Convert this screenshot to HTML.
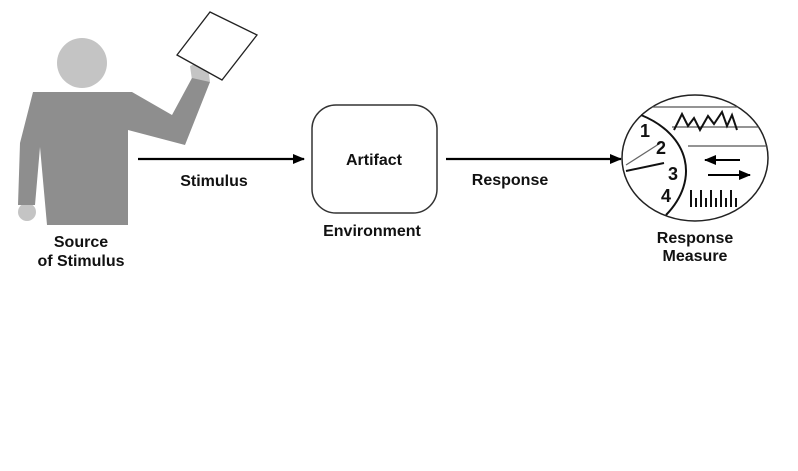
<!DOCTYPE html>
<html><head><meta charset="utf-8"><style>
html,body{margin:0;padding:0;background:#fff;width:798px;height:471px;overflow:hidden}
text{font-family:"Liberation Sans",Arial,sans-serif;font-weight:bold;fill:#111}
</style></head><body>
<svg width="798" height="471" viewBox="0 0 798 471" xmlns="http://www.w3.org/2000/svg">
<defs><marker id="ah" markerWidth="12" markerHeight="10" refX="11" refY="5" orient="auto" markerUnits="userSpaceOnUse"><path d="M0,0 L12,5 L0,10 z" fill="#000"/></marker>
<clipPath id="cc"><ellipse cx="695" cy="158" rx="73" ry="63"/></clipPath></defs>
<!-- person -->
<circle cx="82" cy="63" r="25" fill="#c4c4c4"/>
<polygon points="190,66 207,58 210,82 192,80" fill="#c4c4c4"/>
<circle cx="27" cy="212" r="9" fill="#c4c4c4"/>
<polygon points="33,92 132,92 172,115 192,78 210,82 185,145 128,130 128,225 47,225 40,147 35,205 18,205 20,143" fill="#8e8e8e"/>
<polygon points="177,55 210,12 257,35 222,80" fill="#fff" stroke="#222" stroke-width="1.3"/>
<!-- arrows -->
<line x1="138" y1="159" x2="304" y2="159" stroke="#000" stroke-width="2.2" marker-end="url(#ah)"/>
<line x1="446" y1="159" x2="621" y2="159" stroke="#000" stroke-width="2.2" marker-end="url(#ah)"/>
<rect x="312" y="105" width="125" height="108" rx="24" fill="#fff" stroke="#333" stroke-width="1.5"/>
<!-- gauge -->
<ellipse cx="695" cy="158" rx="73" ry="63" fill="#fff" stroke="#222" stroke-width="1.5"/>
<g clip-path="url(#cc)">
<line x1="630" y1="107" x2="770" y2="107" stroke="#555" stroke-width="1.3"/>
<line x1="672" y1="127" x2="770" y2="127" stroke="#555" stroke-width="1.3"/>
<line x1="688" y1="146" x2="770" y2="146" stroke="#555" stroke-width="1.3"/>
</g>
<path d="M674,130 L682,114 L688,126 L694,118 L700,130 L708,116 L714,124 L722,112 L727,126 L732,115 L737,130" fill="none" stroke="#111" stroke-width="2"/>
<path d="M641,115 C690,135 700,180 666,215" fill="none" stroke="#111" stroke-width="2"/>
<line x1="626" y1="165" x2="662" y2="142" stroke="#666" stroke-width="1.2"/>
<line x1="626" y1="171" x2="664" y2="163" stroke="#111" stroke-width="2"/>
<text x="640" y="137" font-size="18">1</text>
<text x="656" y="154" font-size="18">2</text>
<text x="668" y="180" font-size="18">3</text>
<text x="661" y="202" font-size="18">4</text>
<line x1="740" y1="160" x2="705" y2="160" stroke="#000" stroke-width="2" marker-end="url(#ah)"/>
<line x1="708" y1="175" x2="750" y2="175" stroke="#000" stroke-width="2" marker-end="url(#ah)"/>
<g stroke="#111" stroke-width="2">
<line x1="691" y1="207" x2="691" y2="190"/><line x1="696" y1="207" x2="696" y2="198"/>
<line x1="701" y1="207" x2="701" y2="190"/><line x1="706" y1="207" x2="706" y2="198"/>
<line x1="711" y1="207" x2="711" y2="190"/><line x1="716" y1="207" x2="716" y2="198"/>
<line x1="721" y1="207" x2="721" y2="190"/><line x1="726" y1="207" x2="726" y2="198"/>
<line x1="731" y1="207" x2="731" y2="190"/><line x1="736" y1="207" x2="736" y2="198"/>
</g>
<!-- labels -->
<text x="81" y="247" font-size="16" text-anchor="middle">Source</text>
<text x="81" y="266" font-size="16" text-anchor="middle">of Stimulus</text>
<text x="214" y="186" font-size="16" text-anchor="middle">Stimulus</text>
<text x="374" y="165" font-size="16" text-anchor="middle">Artifact</text>
<text x="372" y="236" font-size="16" text-anchor="middle">Environment</text>
<text x="510" y="185" font-size="16" text-anchor="middle">Response</text>
<text x="695" y="243" font-size="16" text-anchor="middle">Response</text>
<text x="695" y="261" font-size="16" text-anchor="middle">Measure</text>
</svg>
</body></html>
